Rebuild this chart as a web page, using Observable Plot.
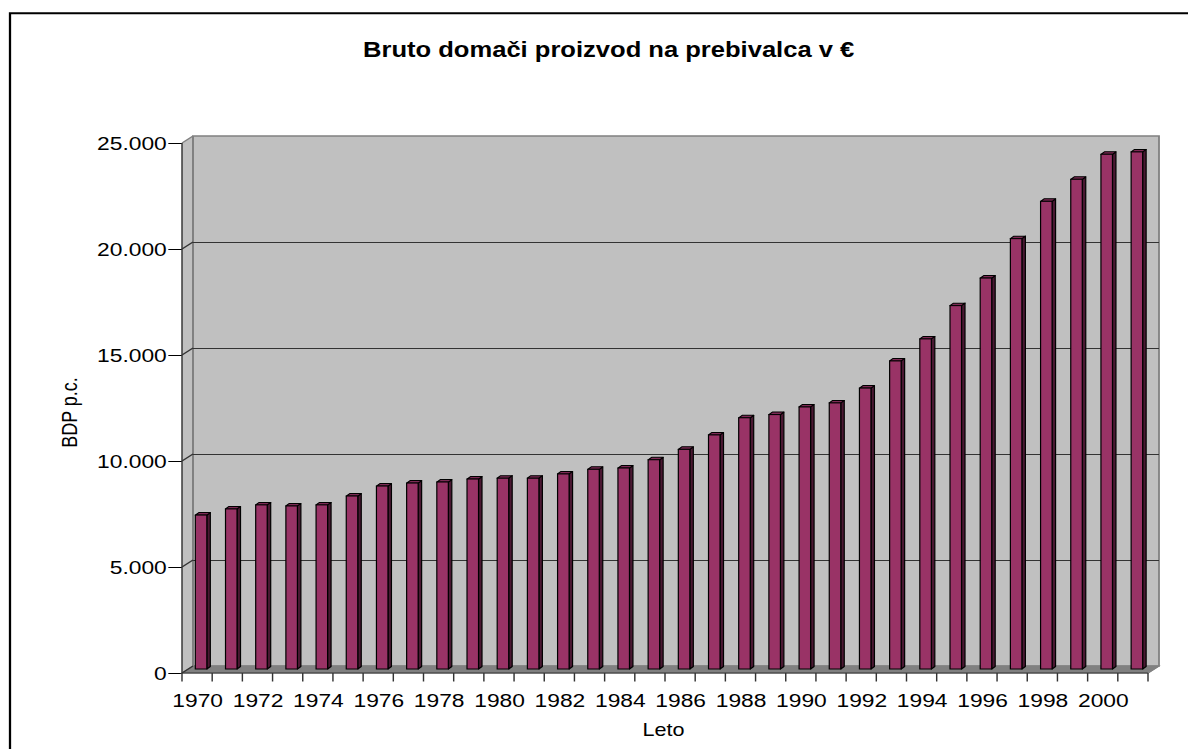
<!DOCTYPE html>
<html><head><meta charset="utf-8">
<script src="https://cdn.jsdelivr.net/npm/d3@7"></script>
<script src="https://cdn.jsdelivr.net/npm/@observablehq/plot@0.6"></script>
<style>html,body{margin:0;padding:0;background:#fff;overflow:hidden;} #chart{width:1188px;height:749px;overflow:hidden;}</style>
</head><body><div id="chart"></div>
<script>
// ---- data ----
const years = [1970,1971,1972,1973,1974,1975,1976,1977,1978,1979,1980,1981,1982,1983,1984,1985,
               1986,1987,1988,1989,1990,1991,1992,1993,1994,1995,1996,1997,1998,1999,2000,2001];
const gdp = [7260,7550,7740,7690,7740,8160,8630,8770,8820,8960,9000,9000,9200,9420,9480,9870,
             10360,11040,11850,12000,12360,12550,13250,14530,15570,17140,18440,20300,22060,23100,24280,24390];
const yTicks = [0,5000,10000,15000,20000,25000];
const yTickLabels = ["0","5.000","10.000","15.000","20.000","25.000"];
const xLabelYears = [1970,1972,1974,1976,1978,1980,1982,1984,1986,1988,1990,1992,1994,1996,1998,2000];
const title = "Bruto domači proizvod na prebivalca v €";
const yTitle = "BDP p.c.";
const xTitle = "Leto";

// ---- geometry / style ----
const SX = 1.2;                 // horizontal stretch of the original picture
const W = 1188 / SX, H = 749;
const DX = 11 / SX, DY = -7;    // wall depth offset
const BAR_DY = -4;              // bar front plane offset
const FACE_L = 11.1, FACE_W = 9.6;
const SIDE_X = 2.9, SIDE_Y = -2.5;
const rows = years.map((year, i) => ({year, value: gdp[i]}));

function bwOf(x) { return typeof x.bandwidth === "function" ? x.bandwidth() : (x(years[1]) - x(years[0])); }

function walls(index, {x, y}, values, dims) {
  const x0 = dims.marginLeft, x1 = dims.width - dims.marginRight;
  const y0 = y(0), yT = y(yTicks[yTicks.length - 1]);
  const g = d3.create("svg:g");
  g.append("path").attr("d", `M${x0},${y0}L${x0},${yT}L${x0+DX},${yT+DY}L${x0+DX},${y0+DY}Z`).attr("fill", "#c0c0c0");
  g.append("rect").attr("x", x0+DX).attr("y", yT+DY).attr("width", x1-x0).attr("height", y0-yT)
    .attr("fill", "#c0c0c0").attr("stroke", "#808080").attr("stroke-width", 1.5);
  g.append("path").attr("d", `M${x0},${y0}L${x1},${y0}L${x1+DX},${y0+DY}L${x0+DX},${y0+DY}Z`)
    .attr("fill", "#808080").attr("stroke", "#808080");
  g.append("line").attr("x1", x0+DX).attr("x2", x0+DX).attr("y1", yT+DY).attr("y2", y0+DY).attr("stroke", "#808080").attr("stroke-width", 1.5);
  for (const t of yTicks) {
    g.append("line").attr("x1", x0).attr("y1", y(t)).attr("x2", x0+DX).attr("y2", y(t)+DY)
      .attr("stroke", t === yTicks[yTicks.length-1] ? "#808080" : "#333").attr("stroke-width", 1.2);
  }
  // outer chart border (only its top and left sides are inside the picture)
  g.append("path").attr("d", `M${10/SX},${H + 20}L${10/SX},13.3L${W + 20},13.3`)
    .attr("fill", "none").attr("stroke", "#000").attr("stroke-width", 1.9);
  return g.node();
}

function barSides(index, {x, y}) {
  const g = d3.create("svg:g").attr("stroke", "#000").attr("stroke-width", 1).attr("stroke-linejoin", "round");
  for (const d of rows) {
    const l = x(d.year) + FACE_L, r = l + FACE_W;
    const yt = y(d.value) + BAR_DY, yb = y(0) + BAR_DY;
    g.append("path").attr("d", `M${r},${yb}L${r},${yt}L${r+SIDE_X},${yt+SIDE_Y}L${r+SIDE_X},${yb+SIDE_Y}Z`).attr("fill", "#4a1832");
    g.append("path").attr("d", `M${l},${yt}L${r},${yt}L${r+SIDE_X},${yt+SIDE_Y}L${l+SIDE_X},${yt+SIDE_Y}Z`).attr("fill", "#7d2a55");
  }
  return g.node();
}

function frontAxes(index, {x, y}, values, dims) {
  const x0 = dims.marginLeft, x1 = dims.width - dims.marginRight;
  const y0 = y(0), yT = y(yTicks[yTicks.length - 1]);
  const bw = bwOf(x);
  const g = d3.create("svg:g").attr("stroke", "#333").attr("stroke-width", 1.2);
  g.append("line").attr("x1", x0).attr("x2", x0).attr("y1", yT).attr("y2", y0);
  g.append("line").attr("x1", x0).attr("x2", x1).attr("y1", y0).attr("y2", y0);
  g.append("line").attr("x1", x1).attr("y1", y0).attr("x2", x1+DX).attr("y2", y0+DY).attr("stroke", "#808080");
  for (let i = 0; i <= years.length; i++) {
    const xx = (i < years.length ? x(years[i]) : x(years[years.length-1]) + bw);
    g.append("line").attr("x1", xx).attr("x2", xx).attr("y1", y0).attr("y2", y0 + 8.5);
  }
  return g.node();
}

const frameCx = (182/SX + 1148/SX) / 2;

const svg = Plot.plot({
  width: W, height: H,
  marginLeft: 182/SX, marginRight: W - 1148/SX, marginTop: 143, marginBottom: 76,
  style: {fontFamily: "'Liberation Sans', Arial, sans-serif", fontSize: "19px", color: "#000", background: "white", overflow: "hidden"},
  x: {type: "band", domain: years, padding: 0, round: false, ticks: xLabelYears, tickFormat: d => String(d), tickSize: 0, tickPadding: 20, label: null},
  y: {domain: [0, 25000], ticks: yTicks, tickFormat: d => yTickLabels[yTicks.indexOf(d)], tickSize: 11.4, tickPadding: 1.8, label: null},
  marks: [
    walls,
    Plot.ruleY(yTicks.slice(1, -1), {dx: DX, dy: DY, stroke: "#333", strokeWidth: 1.2}),
    barSides,
    Plot.barY(rows, {x: "year", y: "value", fill: "#993366", stroke: "#000", strokeWidth: 1,
                     insetLeft: FACE_L, insetRight: 25.156 - FACE_L - FACE_W, dy: BAR_DY}),
    frontAxes,
    Plot.text([title], {frameAnchor: "top", lineAnchor: "middle", dx: 506.7 - frameCx, dy: 49.2 - 143,
                        fontSize: 21.3, fontWeight: "bold"}),
    Plot.text([yTitle], {frameAnchor: "left", lineAnchor: "middle", textAnchor: "middle", rotate: -90,
                         dx: 57.5 - 182/SX, dy: 4, fontSize: 18}),
    Plot.text([xTitle], {frameAnchor: "bottom", lineAnchor: "middle", dx: 552.5 - frameCx, dy: 57.2, fontSize: 18})
  ]
});
svg.setAttribute("width", 1188);
svg.setAttribute("height", 749);
svg.setAttribute("viewBox", `0 0 ${W} ${H}`);
svg.setAttribute("preserveAspectRatio", "none");
svg.style.width = "1188px";
svg.style.height = "749px";
svg.style.maxWidth = "none";
document.getElementById("chart").appendChild(svg);
</script>
</body></html>
